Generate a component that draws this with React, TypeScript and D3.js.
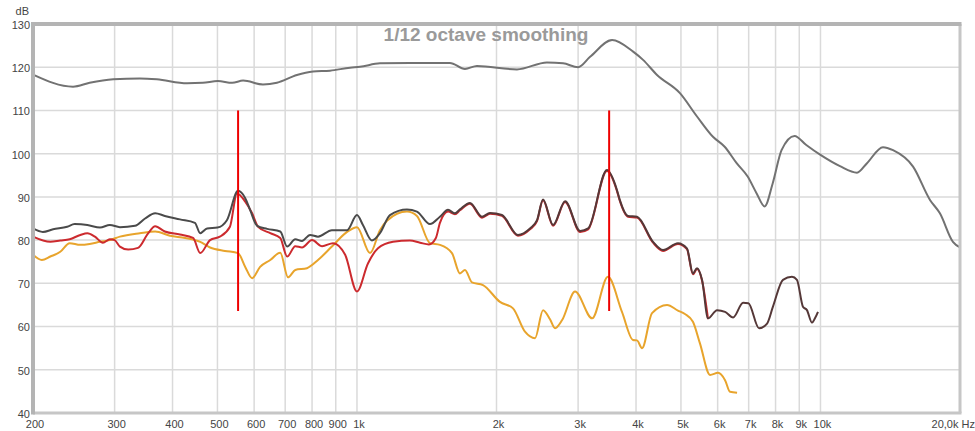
import React from 'react';
import * as d3 from 'd3';

// ---- data ----
const xTickValues = [200, 300, 400, 500, 600, 700, 800, 900, 1000, 2000, 3000, 4000, 5000, 6000, 7000, 8000, 9000, 10000];
const xTickLabels = ['200', '300', '400', '500', '600', '700', '800', '900', '1k', '2k', '3k', '4k', '5k', '6k', '7k', '8k', '9k', '10k'];
const yTickValues = [40, 50, 60, 70, 80, 90, 100, 110, 120, 130];
const markerFreqs = [554, 3500];
const markerRange = [63.6, 110];

const graySeries: [number, number][] = [
  [200, 118.3], [244, 115.5], [265, 116.4], [298, 117.2], [340, 117.4], [370, 117.2], [430, 116.3], [465, 116.4],
  [501, 116.8], [538, 116.4], [568, 116.9], [627, 116.0], [672, 116.4], [742, 118.2], [804, 119.0], [875, 119.2],
  [966, 119.9], [1015, 120.1], [1121, 120.9], [1301, 121.0], [1587, 121.0], [1710, 119.6], [1815, 120.3],
  [2214, 119.5], [2570, 121.1], [2784, 120.9], [3000, 120.0], [3184, 122.4], [3552, 126.3], [3943, 123.6],
  [4142, 121.7], [4440, 118.2], [4975, 114.0], [5416, 108.6], [5862, 103.9], [6213, 101.6], [6594, 97.8],
  [6965, 94.7], [7283, 90.8], [7579, 87.8], [7886, 93.1], [8242, 100.8], [8792, 104.1], [9319, 102.0],
  [10000, 99.7], [11017, 97.1], [11990, 95.6], [12600, 97.8], [13640, 101.5], [14340, 100.8], [15840, 97.0],
  [17230, 89.3], [18100, 86.2], [19310, 79.6], [20000, 78.3],
];

const darkSeries: [number, number][] = [
  [200, 82.7], [210, 81.9], [221, 82.5], [237, 83.1], [246, 83.7], [262, 83.5], [279, 82.9], [293, 83.5],
  [308, 83.0], [332, 83.3], [349, 85.0], [367, 86.2], [385, 85.6], [415, 84.8], [447, 84.0], [459, 81.6],
  [475, 82.7], [500, 82.9], [524, 84.6], [554, 91.4], [574, 89.7], [588, 87.0], [609, 83.3], [640, 82.6],
  [683, 82.0], [707, 78.5], [736, 80.2], [761, 79.8], [792, 81.2], [824, 80.8], [883, 82.3], [952, 82.3],
  [1000, 85.8], [1030, 83.5], [1077, 79.9], [1121, 81.6], [1178, 85.8], [1282, 87.1], [1347, 86.6],
  [1437, 83.7], [1510, 85.4], [1572, 87.0], [1627, 86.2], [1668, 87.1], [1753, 88.6], [1861, 85.4],
  [1936, 86.3], [2055, 85.8], [2225, 81.2], [2362, 82.7], [2446, 84.6], [2520, 89.4], [2649, 83.5],
  [2812, 89.0], [3030, 82.1], [3153, 82.7], [3462, 96.2], [3638, 91.6], [3690, 89.3], [3843, 85.6],
  [4020, 85.4], [4353, 79.6], [4574, 77.7], [4926, 79.3], [5151, 78.1], [5307, 72.3], [5416, 73.5],
  [5553, 70.8], [5721, 61.9], [5982, 63.8], [6225, 63.4], [6479, 62.1], [6808, 65.5], [6990, 65.4],
  [7371, 59.6], [7670, 60.7], [7897, 64.6], [8300, 70.8], [8680, 71.5], [8897, 70.8], [9166, 64.6],
  [9350, 63.8], [9587, 60.9], [9730, 61.9], [9877, 63.4],
];

const redSeries: [number, number][] = [
  [200, 80.8], [218, 79.6], [229, 79.9], [240, 80.2], [253, 81.2], [262, 81.6], [272, 80.8], [283, 79.4],
  [293, 80.2], [300, 80.0], [308, 78.5], [321, 77.8], [337, 78.2], [354, 81.5], [367, 83.2], [385, 82.0],
  [415, 81.3], [443, 80.5], [459, 77.0], [482, 80.0], [506, 80.8], [532, 83.1], [551, 90.8], [574, 88.9],
  [594, 86.2], [612, 83.1], [650, 81.6], [683, 80.5], [707, 76.2], [736, 78.6], [761, 78.3], [800, 80.0],
  [841, 78.6], [888, 79.3], [943, 76.6], [1000, 68.1], [1056, 74.6], [1110, 78.1], [1196, 79.6],
  [1301, 79.9], [1368, 79.4], [1430, 79.0], [1480, 80.5], [1510, 84.0], [1572, 86.6], [1627, 86.0],
  [1668, 86.9], [1753, 88.4], [1861, 85.2], [1936, 86.1], [2055, 85.6], [2225, 81.0], [2362, 82.5],
  [2446, 84.4], [2520, 89.2], [2649, 83.3], [2812, 88.8], [3030, 81.9], [3153, 82.5], [3462, 96.0],
  [3638, 91.4], [3690, 89.1], [3843, 85.4], [4020, 85.2], [4353, 79.4], [4574, 77.5], [4926, 79.1],
  [5151, 77.9], [5307, 72.1], [5416, 73.3], [5553, 70.6], [5721, 61.7],
];

const orangeSeries: [number, number][] = [
  [200, 76.6], [209, 75.4], [218, 76.2], [229, 77.3], [240, 79.3], [253, 78.9], [265, 79.1], [279, 79.6],
  [293, 80.0], [308, 80.8], [340, 81.6], [367, 82.0], [395, 81.0], [426, 80.5], [459, 79.6], [482, 78.3],
  [519, 77.5], [554, 77.0], [574, 73.8], [594, 71.2], [618, 73.8], [650, 75.4], [683, 77.1], [710, 71.4],
  [736, 73.1], [780, 73.5], [824, 75.4], [883, 78.5], [952, 81.9], [1000, 83.0], [1067, 77.0], [1121, 82.3],
  [1161, 84.5], [1282, 86.6], [1347, 85.6], [1437, 79.3], [1510, 78.9], [1603, 77.0], [1668, 72.3],
  [1710, 73.1], [1771, 70.2], [1870, 69.6], [2035, 65.7], [2171, 64.2], [2304, 58.8], [2422, 57.3],
  [2520, 63.8], [2609, 61.7], [2675, 59.6], [2771, 61.5], [2955, 68.1], [3216, 61.9], [3479, 71.5],
  [3730, 63.4], [3941, 56.9], [4020, 56.8], [4121, 55.0], [4331, 63.1], [4666, 65.0], [4926, 63.7],
  [5100, 62.9], [5307, 61.1], [5495, 56.1], [5778, 48.8], [6012, 49.3], [6225, 47.6], [6382, 44.9],
  [6608, 44.7],
];

// ---- layout ----
const W = 975;
const H = 431;
const left = 33, right = 960, top = 24, bottom = 413;
const FONT = 'Liberation Sans, Arial, sans-serif';

export default function App() {
  const x = d3.scaleLog().domain([200, 20000]).range([left, right]);
  const y = d3.scaleLinear().domain([40, 130]).range([bottom, top]);
  const line = d3
    .line<[number, number]>()
    .x((d) => x(d[0]))
    .y((d) => y(d[1]))
    .curve(d3.curveMonotoneX);

  return (
    <svg
      width={W}
      height={H}
      style={{ position: 'absolute', left: 0, top: 0, background: '#fff' }}
      xmlns="http://www.w3.org/2000/svg"
    >
      <defs>
        <linearGradient id="darkGrad" gradientUnits="userSpaceOnUse" x1={x(1400)} x2={x(1800)} y1={0} y2={0}>
          <stop offset="0" stopColor="#4a4a4a" />
          <stop offset="1" stopColor="#553838" />
        </linearGradient>
      </defs>
      <rect x={0} y={0} width={W} height={H} fill="#fff" />
      {/* grid */}
      {xTickValues.slice(1).map((v) => (
        <line key={'gx' + v} x1={x(v)} x2={x(v)} y1={top} y2={bottom} stroke="#dadada" strokeWidth={1.5} />
      ))}
      {yTickValues.slice(1, -1).map((v) => (
        <line key={'gy' + v} x1={left} x2={right} y1={y(v)} y2={y(v)} stroke="#dadada" strokeWidth={1.5} />
      ))}
      {/* title */}
      <text x={486} y={41} textAnchor="middle" fontFamily={FONT} fontWeight="bold" fontSize={19} fill="#9a9a9a">
        1/12 octave smoothing
      </text>
      {/* curves */}
      <path d={line(orangeSeries) || ''} fill="none" stroke="#e8a42c" strokeWidth={2} />
      <path d={line(redSeries) || ''} fill="none" stroke="#cc2a2e" strokeWidth={2} />
      <path d={line(darkSeries) || ''} fill="none" stroke="url(#darkGrad)" strokeWidth={2} />
      <path d={line(graySeries) || ''} fill="none" stroke="#727272" strokeWidth={2} />
      {/* markers */}
      {markerFreqs.map((f) => (
        <line key={'m' + f} x1={x(f)} x2={x(f)} y1={y(markerRange[1])} y2={y(markerRange[0])} stroke="#ee0000" strokeWidth={2} />
      ))}
      {/* frame */}
      <line x1={right} x2={right} y1={top} y2={bottom} stroke="#c6c6c6" strokeWidth={3} />
      <line x1={left} x2={right + 1.5} y1={bottom} y2={bottom} stroke="#c6c6c6" strokeWidth={3} />
      <line x1={left - 2} x2={right + 1.5} y1={top} y2={top} stroke="#b4b4b4" strokeWidth={4} />
      <line x1={left} x2={left} y1={top - 2} y2={bottom + 1.5} stroke="#b4b4b4" strokeWidth={4} />
      {/* y labels */}
      {yTickValues.map((v) => (
        <text key={'yl' + v} x={30} y={y(v) + 1} dy="0.35em" textAnchor="end" fontFamily={FONT} fontSize={11} fill="#444">
          {v}
        </text>
      ))}
      <text x={29} y={11} dy="0.35em" textAnchor="end" fontFamily={FONT} fontSize={11} fill="#444">
        dB
      </text>
      {/* x labels */}
      {xTickValues.map((v, i) => (
        <text key={'xl' + v} x={x(v) + 2} y={428} textAnchor="middle" fontFamily={FONT} fontSize={11} fill="#444">
          {xTickLabels[i]}
        </text>
      ))}
      <text x={975} y={428} textAnchor="end" fontFamily={FONT} fontSize={11} fill="#444">
        20,0k Hz
      </text>
    </svg>
  );
}
